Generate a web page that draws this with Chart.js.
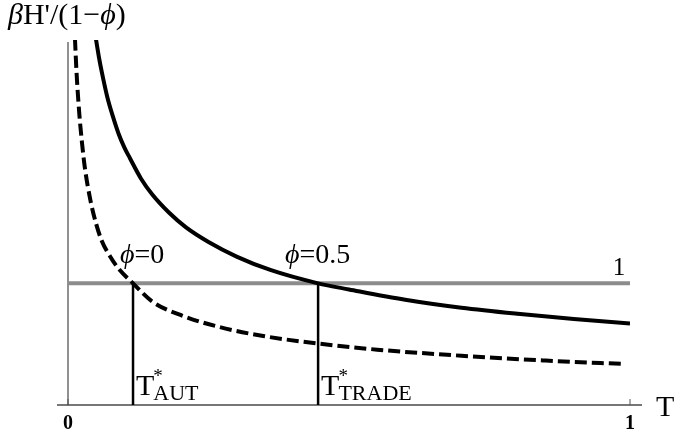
<!DOCTYPE html>
<html>
<head>
<meta charset="utf-8">
<script src="https://cdn.jsdelivr.net/npm/chart.js@4.4.1/dist/chart.umd.min.js"></script>
<style>
  html, body { margin: 0; padding: 0; background: #fff; }
  canvas { display: block; }
</style>
</head>
<body>
<canvas id="chart" width="676" height="438"></canvas>
<script>
// ── Data ─────────────────────────────────────────────────────────────
// phi = 0.5 (solid) curve
const solidT = [0.046, 0.05, 0.055, 0.06, 0.07, 0.08, 0.09, 0.10, 0.11, 0.13, 0.15, 0.18,
                0.21, 0.25, 0.30, 0.36, 0.445, 0.50, 0.60, 0.70, 0.80, 0.90, 1.00];
const solidV = [3.12, 3.00, 2.86, 2.74, 2.53, 2.37, 2.23, 2.12, 2.03, 1.86, 1.73, 1.58,
                1.46, 1.34, 1.22, 1.11, 1.00, 0.95, 0.865, 0.80, 0.75, 0.707, 0.67];
// phi = 0 (dashed) curve
const dashedT = [0.011, 0.0125, 0.015, 0.02, 0.025, 0.03, 0.04, 0.05, 0.06, 0.075, 0.09, 0.1157,
                 0.15, 0.20, 0.27, 0.35, 0.445, 0.55, 0.70, 0.85, 0.99];
const dashedV = [3.15, 3.00, 2.75, 2.40, 2.15, 1.95, 1.68, 1.49, 1.35, 1.22, 1.12, 1.00,
                 0.85, 0.74, 0.64, 0.565, 0.505, 0.455, 0.405, 0.365, 0.337];
const refLevel = 1;            // horizontal line y = 1
const tAut   = 0.1157;         // T*_AUT
const tTrade = 0.445;          // T*_TRADE
const xTicks = [0, 1];
const xTickLabels = ['0', '1'];

const pts = (xs, ys) => xs.map((x, i) => ({ x, y: ys[i] }));

const SERIF = '"Liberation Serif", "Times New Roman", serif';

// ── Draw a run of text pieces with mixed fonts ───────────────────────
function drawRuns(ctx, x, y, runs) {
  let cx = x;
  runs.forEach(r => {
    ctx.font = r.font;
    ctx.fillText(r.t, cx, y + (r.dy || 0));
    cx += ctx.measureText(r.t).width + (r.gap || 0);
  });
}

// ── Axes, ticks and labels (Mathematica-like) ────────────────────────
const axesPlugin = {
  id: 'axes',
  beforeDatasetsDraw(chart) {
    const { ctx, scales: { x, y } } = chart;
    const x0 = x.getPixelForValue(0), y0 = y.getPixelForValue(0);
    ctx.save();
    // x axis: grey, a bit heavier
    ctx.strokeStyle = '#777';
    ctx.lineWidth = 1.8;
    ctx.beginPath();
    ctx.moveTo(x0 - 11, y0); ctx.lineTo(x.getPixelForValue(1) + 12, y0);
    ctx.stroke();
    // y axis: thin, dark
    ctx.strokeStyle = '#222';
    ctx.lineWidth = 1;
    ctx.beginPath();
    ctx.moveTo(x0, y0); ctx.lineTo(x0, y.getPixelForValue(3) + 2);
    ctx.stroke();
    // tick marks
    ctx.strokeStyle = '#555';
    xTicks.forEach(t => {
      const px = x.getPixelForValue(t);
      ctx.beginPath(); ctx.moveTo(px, y0); ctx.lineTo(px, y0 - 6); ctx.stroke();
    });
    ctx.restore();
  },
  afterDraw(chart) {
    const { ctx, scales: { x, y } } = chart;
    const y0 = y.getPixelForValue(0);
    const y1 = y.getPixelForValue(refLevel);
    ctx.save();
    ctx.fillStyle = '#000';
    ctx.textBaseline = 'alphabetic';

    // tick labels
    ctx.font = 'bold 20px ' + SERIF;
    ctx.textAlign = 'center';
    xTicks.forEach((t, i) => ctx.fillText(xTickLabels[i], x.getPixelForValue(t), y0 + 24));

    // axis label T
    ctx.textAlign = 'left';
    ctx.font = '30px ' + SERIF;
    ctx.fillText('T', x.getPixelForValue(1) + 26, y0 + 11);

    // y label
    drawRuns(ctx, 8, 24, [
      { t: 'β', font: 'italic 30px ' + SERIF },
      { t: "H'/(1\u2212", font: '30px ' + SERIF },
      { t: 'ϕ', font: 'italic 30px ' + SERIF },
      { t: ')', font: '30px ' + SERIF },
    ]);

    // level label "1"
    ctx.font = '25px ' + SERIF;
    ctx.textAlign = 'center';
    ctx.fillText('1', x.getPixelForValue(1) - 11, y1 - 8);

    // phi labels
    ctx.textAlign = 'left';
    drawRuns(ctx, x.getPixelForValue(tAut) - 13, y1 - 20, [
      { t: 'ϕ', font: 'italic 28px ' + SERIF },
      { t: '=0', font: '28px ' + SERIF },
    ]);
    drawRuns(ctx, x.getPixelForValue(tTrade) - 33, y1 - 20, [
      { t: 'ϕ', font: 'italic 28px ' + SERIF },
      { t: '=0.5', font: '28px ' + SERIF },
    ]);

    // T* labels
    [[tAut, 'AUT'], [tTrade, 'TRADE']].forEach(([t, sub]) => {
      const px = x.getPixelForValue(t) + 3;
      ctx.font = '30px ' + SERIF;
      ctx.fillText('T', px, y0 - 10);
      const w = ctx.measureText('T').width;
      ctx.font = '19px ' + SERIF;
      ctx.fillText('*', px + w - 1, y0 - 23);
      ctx.font = '22px ' + SERIF;
      ctx.fillText(sub, px + w - 1, y0 - 5);
    });
    ctx.restore();
  }
};

// ── Chart ────────────────────────────────────────────────────────────
new Chart(document.getElementById('chart').getContext('2d'), {
  type: 'scatter',
  data: {
    datasets: [
      {
        label: 'T*_AUT',
        data: [{ x: tAut, y: 0 }, { x: tAut, y: refLevel }],
        showLine: true, borderColor: '#000', borderWidth: 2.5, pointRadius: 0,
      },
      {
        label: 'T*_TRADE',
        data: [{ x: tTrade, y: 0 }, { x: tTrade, y: refLevel }],
        showLine: true, borderColor: '#000', borderWidth: 2.5, pointRadius: 0,
      },
      {
        label: 'phi=0.5',
        data: pts(solidT, solidV),
        showLine: true, borderColor: '#000', borderWidth: 4, pointRadius: 0,
        cubicInterpolationMode: 'monotone',
      },
      {
        label: 'phi=0',
        data: pts(dashedT, dashedV),
        showLine: true, borderColor: '#000', borderWidth: 4, pointRadius: 0,
        borderDash: [12, 5], cubicInterpolationMode: 'monotone',
      },
      {
        label: 'level',
        data: [{ x: 0, y: refLevel }, { x: 1, y: refLevel }],
        showLine: true, borderColor: '#8c8c8c', borderWidth: 4, pointRadius: 0,
      },
    ],
  },
  options: {
    responsive: false,
    animation: false,
    devicePixelRatio: 1,
    layout: { padding: { left: 68, right: 46, top: 40, bottom: 33 } },
    plugins: { legend: { display: false }, tooltip: { enabled: false } },
    scales: {
      x: { type: 'linear', min: 0, max: 1, display: false },
      y: { type: 'linear', min: 0, max: 3, display: false },
    },
  },
  plugins: [axesPlugin],
});
</script>
</body>
</html>
